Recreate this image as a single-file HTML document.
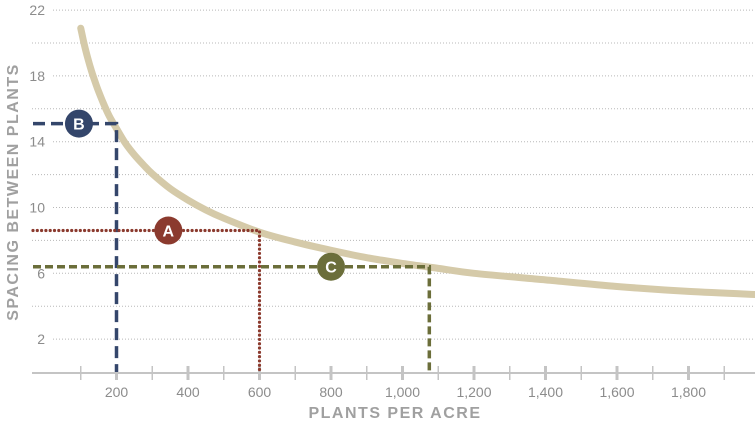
<!DOCTYPE html>
<html><head><meta charset="utf-8"><style>
body{margin:0;background:#fff;}
svg{display:block;font-family:"Liberation Sans",sans-serif;}
</style></head><body>
<svg id="chart" width="755" height="427">
<g id="grid"></g>
<g id="axes"></g>
<g id="curve"></g>
<g id="guides"></g>
<text x="395" y="418" text-anchor="middle" font-size="16" font-weight="bold" fill="#a0a0a0" letter-spacing="1.5">PLANTS PER ACRE</text>
<text transform="translate(18,192) rotate(-90)" text-anchor="middle" font-size="16" font-weight="bold" fill="#a0a0a0" letter-spacing="1.5">SPACING BETWEEN PLANTS</text>
</svg>
<script>
const xTicks=[200,400,600,800,1000,1200,1400,1600,1800];
const xTickLabels=["200","400","600","800","1,000","1,200","1,400","1,600","1,800"];
const yTicks=[2,6,10,14,18,22];
const curveN=[100,110,120,130,140,150,165,180,200,225,250,275,300,350,400,450,500,600,700,800,900,1000,1100,1200,1400,1600,1800,2000];
const curveS=[20.9,19.9,19.05,18.3,17.65,17.05,16.25,15.55,14.8,13.9,13.2,12.6,12.05,11.15,10.45,9.85,9.35,8.5,7.9,7.4,6.95,6.6,6.3,6.0,5.6,5.2,4.9,4.7];
const markerLabels=["B","A","C"];
const markerN=[200,600,1075];
const markerS=[15.1,8.6,6.4];
const markerLabelN=[95,345,800];
const ns="http://www.w3.org/2000/svg";
const X=v=>45+v*0.3575, Y=v=>372-v*16.45;
function mk(t,a,p){const e=document.createElementNS(ns,t);for(const k in a)e.setAttribute(k,a[k]);p.appendChild(e);return e;}
const grid=document.getElementById('grid'),axes=document.getElementById('axes'),cv=document.getElementById('curve'),gd=document.getElementById('guides');
for(let v=2;v<=22;v+=2){const lab=yTicks.includes(v);
const l=mk('line',{x1:lab?53:32,x2:755,y1:Y(v),y2:Y(v),stroke:'#b8b8b8','stroke-width':1,'stroke-dasharray':'1 2'},grid);


if(lab){const t=mk('text',{x:45,y:Y(v)+5,'text-anchor':'end','font-size':14,fill:'#8c8c8c'},grid);t.textContent=v;

}}
const ax=mk('line',{x1:32,x2:755,y1:373,y2:373,stroke:'#c4c4c4','stroke-width':2},axes);


for(let v=100;v<=2000;v+=100){const maj=v%200===0;
const tk=mk('line',{x1:X(v),x2:X(v),y1:366,y2:380,stroke:'#c4c4c4','stroke-width':maj?3:1.5},axes);

}
xTicks.forEach((v,i)=>{const t=mk('text',{x:X(v),y:397,'text-anchor':'middle','font-size':14,fill:'#8c8c8c'},axes);t.textContent=xTickLabels[i];

});
const pts=curveN.map((n,i)=>[X(n),Y(curveS[i])]);
let d='M'+pts[0][0]+','+pts[0][1];
for(let i=0;i<pts.length-1;i++){const p0=pts[i-1]||pts[i],p1=pts[i],p2=pts[i+1],p3=pts[i+2]||p2;
d+=`C${p1[0]+(p2[0]-p0[0])/6},${p1[1]+(p2[1]-p0[1])/6} ${p2[0]-(p3[0]-p1[0])/6},${p2[1]-(p3[1]-p1[1])/6} ${p2[0]},${p2[1]}`;}
const p=mk('path',{d:d,fill:'none',stroke:'#d5caa9','stroke-width':7,'stroke-linecap':'round','stroke-linejoin':'round'},cv);


const cols=['#34466b','#8b3a2e','#6b6e3a'],dash=['12 6','0 4.3','8 4'],wid=[3.5,3.2,3.5],caps=['butt','round','butt'];
markerN.forEach((n,i)=>{const x=X(n),y=Y(markerS[i]);
const g=mk('g',{},gd);


mk('polyline',{points:`33,${y} ${x},${y} ${x},372`,fill:'none',stroke:cols[i],'stroke-width':wid[i],'stroke-dasharray':dash[i],'stroke-linecap':caps[i]},g);
const cx=X(markerLabelN[i]);
mk('circle',{cx:cx,cy:y,r:14,fill:cols[i]},g);
const t=mk('text',{x:cx,y:y+6,'text-anchor':'middle','font-size':16,'font-weight':'bold',fill:'#fff'},g);t.textContent=markerLabels[i];});
</script>
</body></html>
